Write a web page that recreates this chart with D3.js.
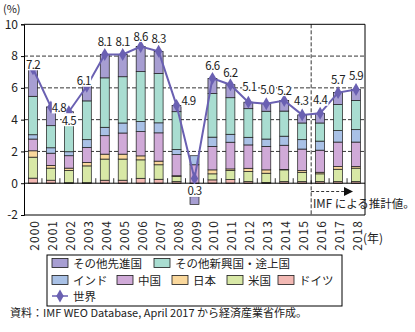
<!DOCTYPE html>
<html><head><meta charset="utf-8">
<script src="https://cdn.jsdelivr.net/npm/d3@7"></script>
<style>
html,body{margin:0;padding:0;background:#fff;}
svg{display:block;font-family:"Noto Sans CJK JP","Noto Sans",sans-serif;}
</style></head>
<body><svg id="chart" width="415" height="332"></svg>
<script>
// ---- data ----
const years = ["2000","2001","2002","2003","2004","2005","2006","2007","2008","2009","2010","2011","2012","2013","2014","2015","2016","2017","2018"];
const germany  = [0.32,0.19,0.03,0.03,0.19,0.19,0.31,0.25,0.10,-0.20,0.21,0.23,0.10,0.04,0.10,0.10,0.10,0.10,0.10];
const usa      = [1.32,0.76,0.77,1.06,1.33,1.33,1.16,0.91,0.32,-0.38,0.38,0.57,0.64,0.59,0.74,0.59,0.49,0.78,0.85];
const japan    = [0.40,0.17,0.15,0.22,0.31,0.31,0.25,0.23,0.05,-0.27,0.25,0.10,0.20,0.21,0.03,0.11,0.10,0.17,0.10];
const china    = [0.74,0.77,0.78,0.94,1.16,1.33,1.53,1.78,1.33,1.16,1.48,1.68,1.47,1.48,1.52,1.35,1.39,1.54,1.54];
const india    = [0.27,0.34,0.25,0.49,0.53,0.63,0.63,0.63,0.32,0.57,0.58,0.50,0.48,0.46,0.57,0.59,0.57,0.72,0.78];
const otherEM  = [2.42,1.39,2.12,2.44,3.11,2.91,3.14,3.10,2.38,0.00,2.74,2.30,1.80,1.75,1.58,1.05,1.14,1.64,1.83];
const otherAdv = [1.73,1.18,0.40,0.92,1.47,1.40,1.58,1.40,0.40,-0.48,0.95,0.82,0.41,0.47,0.66,0.51,0.61,0.75,0.70];
const world    = [7.2,4.8,4.5,6.1,8.1,8.1,8.6,8.3,4.9,0.3,6.6,6.2,5.1,5.0,5.2,4.3,4.4,5.7,5.9];
const yTicks = [-2,0,2,4,6,8,10];
const seriesNames = {germany:"ドイツ", usa:"米国", japan:"日本", china:"中国", india:"インド", otherEM:"その他新興国・途上国", otherAdv:"その他先進国", world:"世界"};
const firstForecastYear = "2016";

// ---- style / layout config ----
const colors = {germany:"#F2B8B3", usa:"#D8E8A6", japan:"#FAD89C", china:"#D0AAD8", india:"#A9C1E6", otherEM:"#A9DDD1", otherAdv:"#A79ED2", world:"#6A60B2"};
const labelNudge = [[0,-5],[8,0],[0,8],[-3,-6],[0,-13],[0,-13],[0,-11],[0,-13],[12,-5],[0,12],[0,-13],[0,-13],[1,-16],[1,-15],[0,-11],[-1,-15],[0,-14],[0,-14],[0,-14]];

const svg = d3.select("#chart");
const L = 24, R = 365, T = 24.3, B = 215;
const x = d3.scaleBand().domain(years).range([L,R]).paddingInner(0.5).paddingOuter(0.25);
const y = d3.scaleLinear().domain([-2,10]).range([B,T]);

const keys = ["germany","usa","japan","china","india","otherEM","otherAdv"];
const src = {germany,usa,japan,china,india,otherEM,otherAdv};
const table = years.map((yr,i)=>{const o={year:yr}; keys.forEach(k=>o[k]=src[k][i]); return o;});
const stacked = d3.stack().keys(keys).offset(d3.stackOffsetDiverging)(table);

// gridlines
svg.append("g").selectAll("line").data(yTicks.filter(t=>t>-2 && t<10 && t!==0)).join("line")
  .attr("x1",L).attr("x2",R).attr("y1",d=>y(d)).attr("y2",d=>y(d))
  .attr("stroke","#000").attr("stroke-width",0.8).attr("stroke-dasharray","4,2");

// forecast divider
const step = x.step();
const xv = x(firstForecastYear) - (step - x.bandwidth())/2;
svg.append("line").attr("x1",xv).attr("x2",xv).attr("y1",T).attr("y2",B)
  .attr("stroke","#000").attr("stroke-width",0.8).attr("stroke-dasharray","4,2");

// bars
svg.append("g").selectAll("g").data(stacked).join("g")
  .attr("fill",d=>colors[d.key])
  .selectAll("rect").data(d=>d).join("rect")
  .attr("x",d=>x(d.data.year)).attr("width",x.bandwidth())
  .attr("y",d=>y(Math.max(d[0],d[1]))).attr("height",d=>Math.abs(y(d[0])-y(d[1])))
  .attr("stroke","#1a1a1a").attr("stroke-width",0.7);

// zero axis + category ticks
svg.append("line").attr("x1",L).attr("x2",R).attr("y1",y(0)).attr("y2",y(0)).attr("stroke","#000").attr("stroke-width",1);
svg.append("g").selectAll("line").data(years.slice(1)).join("line")
  .attr("x1",d=>x(d)-(step-x.bandwidth())/2).attr("x2",d=>x(d)-(step-x.bandwidth())/2)
  .attr("y1",y(0)).attr("y2",y(0)-5).attr("stroke","#000").attr("stroke-width",0.8);

// frame
svg.append("line").attr("x1",L).attr("x2",R).attr("y1",T).attr("y2",T).attr("stroke","#000").attr("stroke-width",1);
svg.append("line").attr("x1",L).attr("x2",R).attr("y1",B).attr("y2",B).attr("stroke","#000").attr("stroke-width",1);
svg.append("line").attr("x1",R).attr("x2",R).attr("y1",T).attr("y2",B).attr("stroke","#000").attr("stroke-width",1);

// y axis
const yAxis = svg.append("g").attr("transform",`translate(${L},0)`)
  .call(d3.axisLeft(y).tickValues(yTicks).tickSize(3).tickPadding(3).tickFormat(d=>String(d)));
yAxis.select(".domain").attr("stroke","#000");
yAxis.selectAll("text").attr("font-size",12).attr("fill","#222").attr("font-family","Noto Sans CJK JP");
svg.append("text").attr("x",3).attr("y",10).attr("dominant-baseline","middle").attr("font-size",11).attr("fill","#222").text("(%)");

// x labels
svg.append("g").selectAll("text").data(years).join("text")
  .attr("transform",d=>`translate(${x(d)+x.bandwidth()/2+0.5},220) rotate(-90)`)
  .attr("text-anchor","end").attr("dominant-baseline","central")
  .attr("font-size",12).attr("letter-spacing",1).attr("fill","#222").text(d=>d);
svg.append("text").attr("x",363).attr("y",240).attr("dominant-baseline","middle").attr("font-size",12).attr("fill","#222").text("(年)");

// forecast arrow + note
const ay = 191.5;
svg.append("line").attr("x1",xv).attr("x2",345).attr("y1",ay).attr("y2",ay).attr("stroke","#000").attr("stroke-width",0.8).attr("stroke-dasharray","3,2");
svg.append("path").attr("d",`M344,${ay-4.5}L353,${ay}L344,${ay+4.5}Z`).attr("fill","#111");
svg.append("text").attr("x",313).attr("y",205).attr("dominant-baseline","middle").attr("font-size",11.5).attr("fill","#222").text("IMF による推計値。");

// world line
const cx = i => x(years[i]) + x.bandwidth()/2;
svg.append("path").datum(world)
  .attr("d",d3.line().x((d,i)=>cx(i)).y(d=>y(d)))
  .attr("fill","none").attr("stroke",colors.world).attr("stroke-width",2);
const diamond = d3.symbol().type(d3.symbolDiamond).size(48);
svg.append("g").selectAll("path").data(world).join("path")
  .attr("transform",(d,i)=>`translate(${cx(i)},${y(d)})`).attr("d",diamond).attr("fill",colors.world);

// value labels
const lg = svg.append("g").attr("font-size",11.5).attr("letter-spacing",-0.6).attr("fill","#222");
world.forEach((v,i)=>{
  const px = cx(i)+labelNudge[i][0], py = y(v)+labelNudge[i][1];
  const t = lg.append("text").attr("x",px).attr("y",py).attr("text-anchor","middle").attr("dominant-baseline","central").text(d3.format(".1f")(v));
  const bb = t.node().getBBox();
  lg.insert("rect","text:last-child").attr("x",bb.x).attr("y",bb.y+1.5).attr("width",bb.width).attr("height",bb.height-3).attr("fill","#fff");
});

// legend
const leg = svg.append("g");
leg.append("rect").attr("x",47).attr("y",255).attr("width",295).attr("height",51).attr("fill","#fff").attr("stroke","#000").attr("stroke-width",1);
const legendItems = [
  {k:"otherAdv",x:52,y:263},{k:"otherEM",x:154,y:263},
  {k:"india",x:52,y:280},{k:"china",x:117,y:280},{k:"japan",x:172,y:280},{k:"usa",x:227,y:280},{k:"germany",x:278,y:280}
];
legendItems.forEach(it=>{
  leg.append("rect").attr("x",it.x).attr("y",it.y-4.5).attr("width",16).attr("height",9).attr("fill",colors[it.k]).attr("stroke","#1a1a1a").attr("stroke-width",0.8);
  leg.append("text").attr("x",it.x+21).attr("y",it.y).attr("dominant-baseline","central").attr("font-size",11.5).attr("fill","#222").text(seriesNames[it.k]);
});
leg.append("line").attr("x1",52).attr("x2",68).attr("y1",296).attr("y2",296).attr("stroke",colors.world).attr("stroke-width",1.5);
leg.append("path").attr("transform","translate(60,296)").attr("d",diamond).attr("fill",colors.world);
leg.append("text").attr("x",73).attr("y",295.5).attr("dominant-baseline","central").attr("font-size",11.5).attr("fill","#222").text(seriesNames.world);

svg.append("text").attr("x",10).attr("y",314).attr("dominant-baseline","middle").attr("font-size",11).attr("fill","#222")
  .text("資料：IMF WEO Database, April 2017 から経済産業省作成。");
</script></body></html>
